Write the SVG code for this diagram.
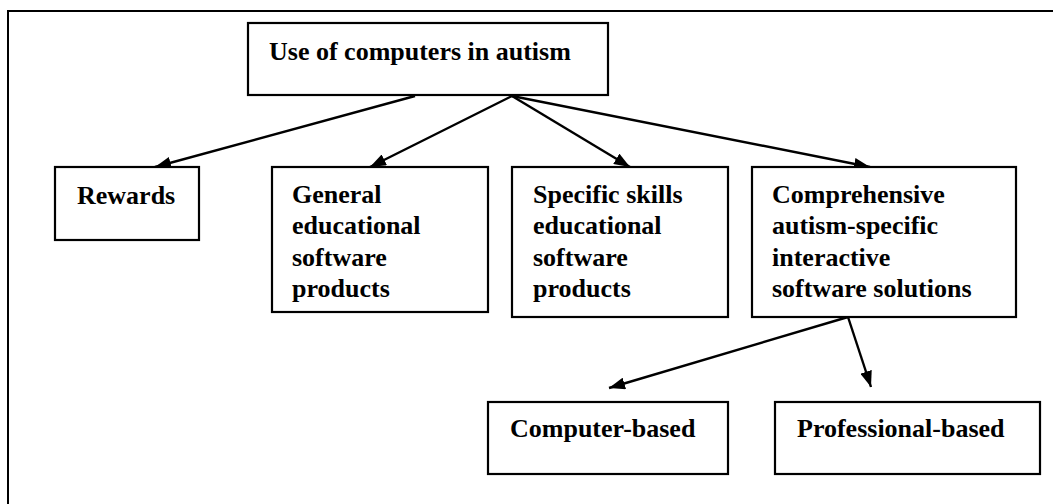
<svg xmlns="http://www.w3.org/2000/svg" width="1053" height="504" viewBox="0 0 1053 504">
<style>
.box{fill:#fff;stroke:#000;stroke-width:2.2}
.t{font-family:"Liberation Serif","Times New Roman",serif;font-weight:bold;font-size:26px;fill:#000}
.c{stroke:#000;stroke-width:2.4;fill:none;marker-end:url(#ah)}
</style>
<defs>
<marker id="ah" markerUnits="userSpaceOnUse" viewBox="0 0 16 12" refX="16" refY="6" markerWidth="16" markerHeight="12" orient="auto">
<path d="M0,0 L16,6 L0,12 Z" fill="#000"/>
</marker>
</defs>
<rect width="1053" height="504" fill="#fff"/>
<path d="M8,506 V11 H1056" fill="none" stroke="#000" stroke-width="2"/>
<g id="connectors">
<line class="c" x1="415" y1="96" x2="155" y2="167"/>
<line class="c" x1="512" y1="96" x2="370" y2="167"/>
<line class="c" x1="512" y1="96" x2="630" y2="167"/>
<line class="c" x1="512" y1="96" x2="870" y2="167"/>
<line class="c" x1="848" y1="317" x2="609" y2="388"/>
<line class="c" x1="848" y1="317" x2="871" y2="387"/>
</g>
<g id="root">
<rect class="box" x="248" y="23" width="360" height="72"/>
<text class="t" x="269" y="60">Use of computers in autism</text>
</g>
<g id="rewards">
<rect class="box" x="55" y="167" width="144" height="73"/>
<text class="t" x="77" y="204">Rewards</text>
</g>
<g id="general">
<rect class="box" x="272" y="167" width="216" height="145"/>
<text class="t"><tspan x="292" y="203">General</tspan><tspan x="292" y="234">educational</tspan><tspan x="292" y="266">software</tspan><tspan x="292" y="297">products</tspan></text>
</g>
<g id="specific">
<rect class="box" x="512" y="167" width="216" height="150"/>
<text class="t"><tspan x="533" y="203">Specific skills</tspan><tspan x="533" y="234">educational</tspan><tspan x="533" y="266">software</tspan><tspan x="533" y="297">products</tspan></text>
</g>
<g id="comprehensive">
<rect class="box" x="752" y="167" width="264" height="150"/>
<text class="t"><tspan x="772" y="203">Comprehensive</tspan><tspan x="772" y="234">autism-specific</tspan><tspan x="772" y="266">interactive</tspan><tspan x="772" y="297">software solutions</tspan></text>
</g>
<g id="computer">
<rect class="box" x="488" y="402" width="240" height="72"/>
<text class="t" x="510" y="437">Computer-based</text>
</g>
<g id="professional">
<rect class="box" x="775" y="402" width="265" height="72"/>
<text class="t" x="797" y="437">Professional-based</text>
</g>
</svg>
